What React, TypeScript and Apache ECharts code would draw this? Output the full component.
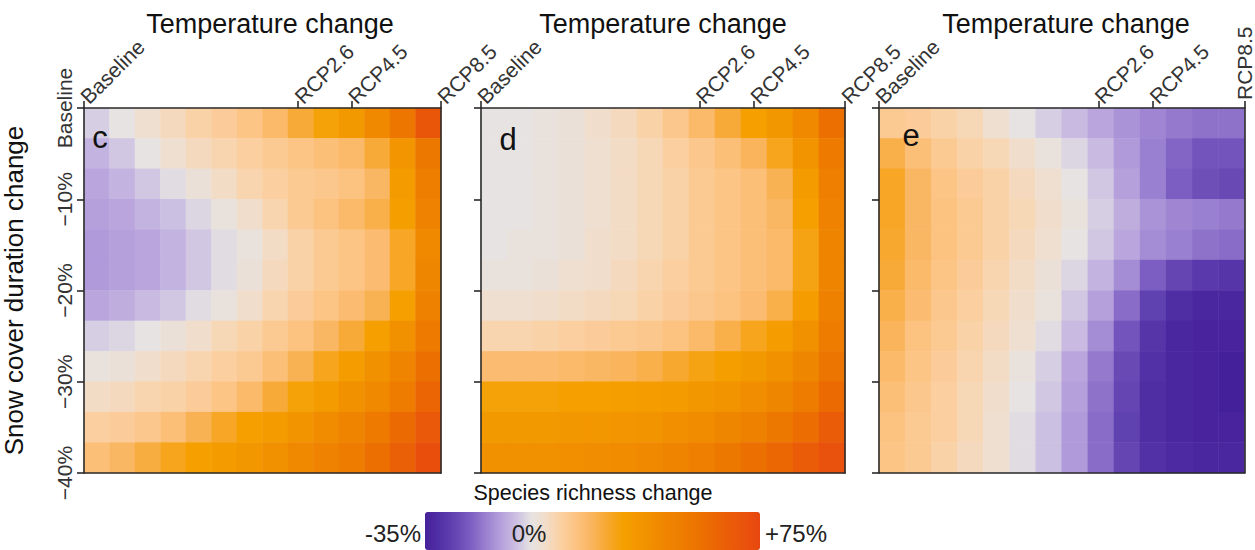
import React, { useEffect, useRef } from 'react';
import * as echarts from 'echarts';

// ---------- data ----------
const scenarioLabels = ['Baseline', 'RCP2.6', 'RCP4.5', 'RCP8.5'];
const scenarioPositions = [0, 0.6, 0.75, 1];
const snowTicks = [0, -10, -20, -30, -40];
const snowLabels = ['Baseline', '−10%', '−20%', '−30%', '−40%'];
const panelLetters = ['c', 'd', 'e'];
const richnessMin = -35;
const richnessMax = 75;

// rows: top (baseline snow) -> bottom (-40%), columns: baseline temp -> RCP8.5
const panelC: number[][] = [
  [-3, 0, 3, 6, 9, 11, 14, 18, 24, 29, 34, 42, 53, 68],
  [-7, -4, 0, 3, 6, 8, 10, 12, 14, 16, 18, 24, 36, 52],
  [-9, -7, -4, -1, 2, 5, 8, 10, 12, 13, 15, 19, 33, 49],
  [-10, -9, -7, -5, -2, 1, 4, 8, 12, 15, 18, 22, 31, 46],
  [-11, -10, -9, -7, -4, -1, 1, 5, 9, 12, 14, 17, 26, 43],
  [-11, -10, -9, -7, -4, -1, 2, 6, 9, 12, 14, 17, 26, 44],
  [-9, -8, -6, -4, -1, 1, 4, 8, 11, 14, 17, 21, 30, 47],
  [-3, -2, 0, 2, 4, 7, 9, 12, 15, 19, 24, 30, 38, 51],
  [1, 2, 4, 6, 8, 10, 12, 16, 21, 27, 32, 38, 45, 56],
  [5, 6, 8, 9, 11, 14, 18, 24, 29, 33, 38, 43, 50, 61],
  [10, 11, 13, 16, 21, 26, 30, 33, 37, 41, 45, 51, 58, 67],
  [16, 19, 23, 27, 30, 33, 35, 38, 42, 46, 50, 56, 63, 72],
];

const panelD: number[][] = [
  [0, 0, 1, 2, 4, 6, 9, 13, 18, 24, 30, 35, 42, 56],
  [0, 0, 1, 2, 3, 5, 7, 10, 13, 16, 20, 27, 37, 51],
  [0, 0, 1, 2, 3, 5, 7, 9, 12, 14, 16, 21, 33, 48],
  [0, 0, 1, 2, 3, 5, 7, 9, 12, 14, 16, 19, 30, 46],
  [0, 1, 1, 2, 4, 5, 7, 9, 12, 14, 16, 18, 28, 45],
  [1, 1, 2, 3, 4, 6, 8, 10, 12, 14, 16, 18, 28, 45],
  [3, 3, 4, 5, 6, 7, 9, 11, 13, 15, 17, 22, 32, 47],
  [8, 8, 9, 10, 11, 12, 13, 15, 18, 22, 27, 32, 38, 50],
  [17, 17, 17, 18, 19, 20, 22, 25, 28, 31, 34, 38, 44, 54],
  [29, 29, 29, 30, 30, 31, 32, 33, 35, 37, 40, 44, 50, 58],
  [34, 34, 34, 35, 35, 36, 37, 39, 41, 44, 47, 52, 57, 65],
  [38, 38, 38, 39, 40, 41, 43, 45, 48, 52, 56, 60, 65, 70],
];

const panelE: number[][] = [
  [12, 11, 9, 7, 3, 0, -3, -6, -9, -12, -14, -16, -17, -17],
  [22, 16, 12, 9, 7, 4, 1, -2, -6, -11, -15, -19, -22, -22],
  [26, 19, 14, 11, 9, 6, 3, 0, -4, -10, -15, -20, -23, -24],
  [26, 19, 15, 12, 9, 7, 4, 1, -3, -8, -12, -14, -15, -16],
  [25, 19, 15, 12, 9, 6, 3, 0, -4, -9, -13, -15, -17, -18],
  [24, 18, 14, 11, 8, 5, 2, -2, -7, -13, -20, -25, -28, -29],
  [22, 17, 13, 10, 7, 4, 1, -4, -10, -18, -26, -31, -33, -33],
  [20, 15, 12, 9, 6, 3, -1, -6, -13, -22, -29, -33, -34, -34],
  [18, 14, 11, 8, 5, 1, -3, -9, -16, -24, -30, -33, -34, -35],
  [16, 13, 10, 7, 4, 0, -4, -10, -17, -25, -31, -33, -34, -35],
  [15, 12, 10, 7, 3, -1, -5, -11, -18, -26, -31, -33, -34, -34],
  [14, 12, 9, 6, 3, -1, -5, -11, -18, -25, -30, -32, -33, -33],
];

const panels = [panelC, panelD, panelE];

// colour ramp from -35% to +75% (5% steps)
const colorRamp = [
  '#45209b', '#5231a6', '#6445b2', '#7c5ec2', '#9a80d0', '#b6a0dc', '#ccc0e2',
  '#e6e3e2', '#f3dcc6', '#fbcf9f', '#fcc27f', '#fab45c', '#f7a82f', '#f5a000',
  '#f39700', '#f18d00', '#ef8400', '#ee7c00', '#ec7200', '#eb6704', '#ea5c08',
  '#e9520c', '#e8470f',
];

// ---------- layout ----------
const FONT = '"Liberation Sans", Arial, sans-serif';
const gridBoxes = [
  { left: 75, top: 108, width: 366, height: 365 },
  { left: 481, top: 108, width: 364, height: 365 },
  { left: 879, top: 108, width: 366, height: 365 },
];
const titleCenters = [270, 663, 1066];
const letterPos = [
  [100, 137],
  [508, 139],
  [911, 135],
];

function scenarioName(v: number) {
  const k = scenarioPositions.findIndex((p) => Math.abs(p - v) < 1e-6);
  return k >= 0 ? scenarioLabels[k] : '';
}
function snowName(v: number) {
  const k = snowTicks.findIndex((p) => Math.abs(p - v) < 1e-6);
  return k >= 0 ? snowLabels[k] : '';
}

function buildOption() {
  const lineStyle = { color: '#2a2a2a', width: 1.6 };
  const xAxis: any[] = [];
  const yAxis: any[] = [];
  const series: any[] = [];

  panels.forEach((grid, i) => {
    const nRows = grid.length;
    const nCols = grid[0].length;
    const colCats = grid[0].map((_, c) => String(c));
    const rowCats = grid.map((_, r) => String(r));

    const xCat = xAxis.length;
    xAxis.push({
      type: 'category',
      gridIndex: i,
      position: 'bottom',
      data: colCats,
      boundaryGap: true,
      z: 10,
      axisLine: { show: true, onZero: false, lineStyle },
      axisTick: { show: false },
      axisLabel: { show: false },
      splitLine: { show: false },
    });
    const isLast = i === 2;
    xAxis.push({
      type: 'value',
      gridIndex: i,
      position: 'top',
      min: 0,
      max: 1,
      z: 10,
      axisLine: { show: true, onZero: false, lineStyle },
      axisTick: {
        show: true,
        length: 7,
        customValues: scenarioPositions,
        lineStyle,
      },
      axisLabel: {
        show: true,
        customValues: isLast ? scenarioPositions.slice(0, 3) : scenarioPositions,
        rotate: -45,
        margin: 8,
        fontSize: 21,
        fontFamily: FONT,
        color: '#333',
        hideOverlap: false,
        formatter: (v: number) => scenarioName(v),
      },
      splitLine: { show: false },
    });
    if (isLast) {
      xAxis.push({
        type: 'value',
        gridIndex: i,
        position: 'top',
        min: 0,
        max: 1,
        z: 10,
        axisLine: { show: false, onZero: false },
        axisTick: { show: false },
        axisLabel: {
          show: true,
          customValues: [scenarioPositions[3]],
          rotate: -90,
          margin: 8,
          fontSize: 21,
          fontFamily: FONT,
          color: '#333',
          formatter: (v: number) => scenarioName(v),
        },
        splitLine: { show: false },
      });
    }

    const yCat = yAxis.length;
    yAxis.push({
      type: 'category',
      gridIndex: i,
      position: 'right',
      inverse: true,
      data: rowCats,
      boundaryGap: true,
      z: 10,
      axisLine: { show: true, onZero: false, lineStyle },
      axisTick: { show: false },
      axisLabel: { show: false },
      splitLine: { show: false },
    });
    yAxis.push({
      type: 'value',
      gridIndex: i,
      position: 'left',
      min: -40,
      max: 0,
      interval: 10,
      z: 10,
      name: i === 0 ? 'Snow cover duration change' : '',
      nameLocation: 'middle',
      nameGap: 57,
      nameRotate: 90,
      nameTextStyle: { fontSize: 26, fontFamily: FONT, color: '#111' },
      axisLine: { show: true, onZero: false, lineStyle },
      axisTick: { show: true, length: 7, lineStyle },
      axisLabel: {
        show: i === 0,
        rotate: 90,
        margin: 9,
        fontSize: 21,
        fontFamily: FONT,
        color: '#333',
        hideOverlap: false,
        alignMinLabel: 'center',
        alignMaxLabel: 'center',
        formatter: (v: number) => snowName(v),
      },
      splitLine: { show: false },
    });

    const data: number[][] = [];
    for (let r = 0; r < nRows; r++) {
      for (let c = 0; c < nCols; c++) {
        data.push([c, r, grid[r][c]]);
      }
    }
    series.push({
      type: 'heatmap',
      xAxisIndex: xCat,
      yAxisIndex: yCat,
      data,
      z: 2,
      emphasis: { disabled: true },
    });
  });

  const graphic: any[] = [];
  titleCenters.forEach((x) => {
    graphic.push({
      type: 'text',
      x,
      y: 24,
      style: {
        text: 'Temperature change',
        fontSize: 27,
        fontFamily: FONT,
        fill: '#111',
        textAlign: 'center',
        textVerticalAlign: 'middle',
      },
    });
  });
  panelLetters.forEach((t, i) => {
    graphic.push({
      type: 'text',
      x: letterPos[i][0],
      y: letterPos[i][1],
      z: 20,
      style: {
        text: t,
        fontSize: 31,
        fontFamily: FONT,
        fill: '#111',
        textAlign: 'center',
        textVerticalAlign: 'middle',
      },
    });
  });
  graphic.push(
    {
      type: 'text',
      x: 593,
      y: 493,
      style: {
        text: 'Species richness change',
        fontSize: 21.5,
        fontFamily: FONT,
        fill: '#111',
        textAlign: 'center',
        textVerticalAlign: 'middle',
      },
    },
    {
      type: 'text',
      x: 421,
      y: 533,
      style: {
        text: '-35%',
        fontSize: 24,
        fontFamily: FONT,
        fill: '#222',
        textAlign: 'right',
        textVerticalAlign: 'middle',
      },
    },
    {
      type: 'text',
      x: 529,
      y: 533,
      z: 20,
      style: {
        text: '0%',
        fontSize: 24,
        fontFamily: FONT,
        fill: '#222',
        textAlign: 'center',
        textVerticalAlign: 'middle',
      },
    },
    {
      type: 'text',
      x: 765,
      y: 533,
      style: {
        text: '+75%',
        fontSize: 24,
        fontFamily: FONT,
        fill: '#222',
        textAlign: 'left',
        textVerticalAlign: 'middle',
      },
    }
  );

  return {
    animation: false,
    backgroundColor: '#ffffff',
    grid: gridBoxes.map((g) => ({ ...g, show: false, containLabel: false })),
    xAxis,
    yAxis,
    visualMap: {
      type: 'continuous',
      min: richnessMin,
      max: richnessMax,
      orient: 'horizontal',
      left: 425,
      top: 512,
      itemWidth: 38,
      itemHeight: 335,
      padding: 0,
      calculable: false,
      hoverLink: false,
      showLabel: false,
      seriesIndex: [0, 1, 2],
      inRange: { color: colorRamp },
      zlevel: 0,
      z: 1,
    },
    series,
    graphic,
  };
}

export default function App() {
  const ref = useRef<HTMLDivElement>(null);
  useEffect(() => {
    if (!ref.current) return;
    const chart = echarts.init(ref.current, undefined, { renderer: 'svg' });
    chart.setOption(buildOption() as any);
    return () => chart.dispose();
  }, []);
  return (
    <div
      ref={ref}
      style={{ position: 'fixed', left: 0, top: 0, width: 1255, height: 550 }}
    />
  );
}
